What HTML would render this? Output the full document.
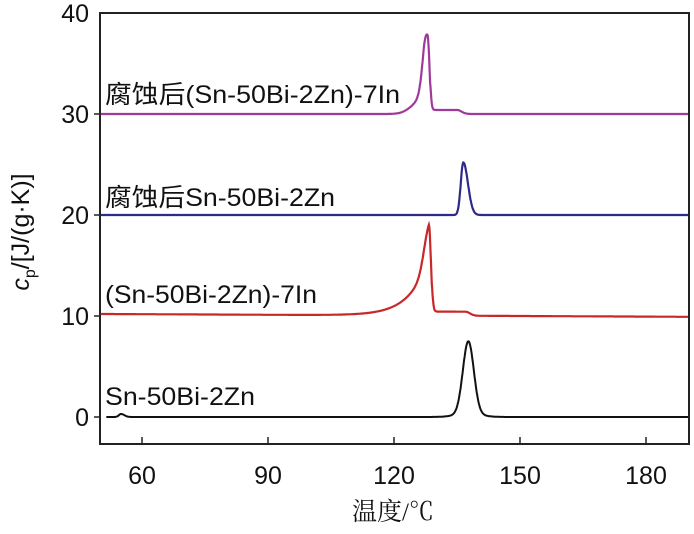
<!DOCTYPE html>
<html><head><meta charset="utf-8"><style>
body{margin:0;background:#fff;}
svg text{font-family:"Liberation Sans","Noto Sans CJK SC",sans-serif;}
</style></head><body>
<svg id="s" width="694" height="529" xmlns="http://www.w3.org/2000/svg">
<rect x="100" y="13" width="589" height="431" fill="none" stroke="#222" stroke-width="2"/>
<g stroke="#222" stroke-width="1.5">
<line x1="142" y1="444" x2="142" y2="437"/><line x1="268" y1="444" x2="268" y2="437"/>
<line x1="394" y1="444" x2="394" y2="437"/><line x1="520" y1="444" x2="520" y2="437"/>
<line x1="646" y1="444" x2="646" y2="437"/>
<line x1="94" y1="417" x2="100" y2="417"/><line x1="94" y1="316" x2="100" y2="316"/>
<line x1="94" y1="215" x2="100" y2="215"/><line x1="94" y1="114" x2="100" y2="114"/>
</g>
<g font-size="25" fill="#111" text-anchor="end">
<text x="89" y="426">0</text><text x="89" y="325">10</text><text x="89" y="224">20</text>
<text x="89" y="123">30</text><text x="89" y="22">40</text></g>
<g font-size="25" fill="#111" text-anchor="middle">
<text x="142" y="484">60</text><text x="268" y="484">90</text><text x="394" y="484">120</text>
<text x="520" y="484">150</text><text x="646" y="484">180</text></g>
<text x="393" y="520" font-size="25" text-anchor="middle" style="font-family:'Liberation Serif','Noto Serif CJK SC',serif" fill="#111">温度/℃</text>
<text transform="translate(29,232) rotate(-90)" font-size="25" text-anchor="middle" fill="#111"><tspan font-style="italic">c</tspan><tspan font-size="16" dy="6">p</tspan><tspan dy="-6">/[J/(g·K)]</tspan></text>
<g font-size="25" fill="#111">
<text x="105" y="103" textLength="295" lengthAdjust="spacingAndGlyphs">腐蚀后(Sn-50Bi-2Zn)-7In</text>
<text x="105" y="206" textLength="230" lengthAdjust="spacingAndGlyphs">腐蚀后Sn-50Bi-2Zn</text>
<text x="105" y="303" textLength="212" lengthAdjust="spacingAndGlyphs">(Sn-50Bi-2Zn)-7In</text>
<text x="105" y="405" textLength="150" lengthAdjust="spacingAndGlyphs">Sn-50Bi-2Zn</text>
</g>
<path id="pm" fill="none" stroke="#a03a9a" stroke-width="2.2"/>
<path id="pb" fill="none" stroke="#2e2a8a" stroke-width="2.2"/>
<path id="pr" fill="none" stroke="#c8282a" stroke-width="2.2"/>
<path id="pk" fill="none" stroke="#111" stroke-width="2"/>
</svg>
<script>
function X(t){return 100+(t-50)*4.2}
function Y(v){return 417-v*10.1}
function g(t,c,a,sl,sr){var s=t<c?sl:sr;return a*Math.exp(-Math.pow((t-c)/s,2)/2)}
function sh(t,a,t0,t1){if(t<t0)return 0;if(t<t1)return a;return a*Math.exp(-Math.pow((t-t1)/1.5,2))}
function mk(id,f,t0){var d="";for(var t=t0;t<=190;t+=0.1){d+=(d?"L":"M")+X(t).toFixed(1)+","+Y(f(t)).toFixed(1)}document.getElementById(id).setAttribute("d",d)}
mk("pm",function(t){return 30+g(t,128,7.6,1.0,0.45)+g(t,127,1.5,2.5,0.5)+(t>128.6?sh(t,0.4,128.6,135):0)},50.2);
mk("pb",function(t){return 20+g(t,136.5,5.2,0.6,1.1)},50.2);
mk("pr",function(t){var pre=t<128.3?5.8*Math.exp((t-128.3)/4.5):5.8*Math.exp(-Math.pow((t-128.3)/0.5,2)/2);return 10.2-0.002*(t-50)+pre+g(t,128.3,3.2,1.2,0.45)+(t>129?sh(t,0.4,129,137):0)},50.2);
mk("pk",function(t){return g(t,137.7,7.2,1.3,1.3)+g(t,137.7,0.3,3,3)+g(t,55,0.3,0.5,0.8)},51.5);
</script>
</body></html>
